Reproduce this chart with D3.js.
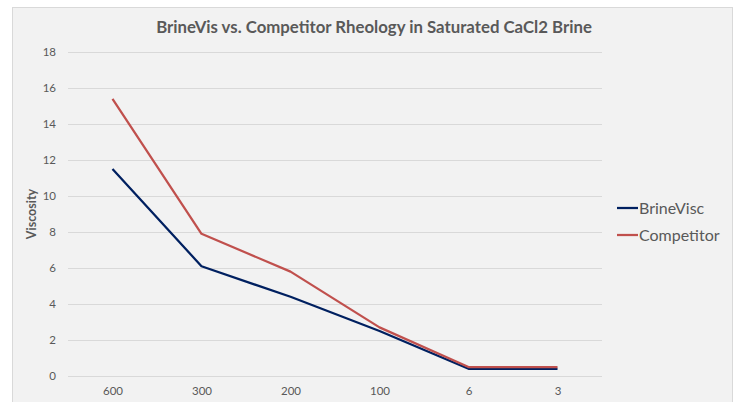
<!DOCTYPE html>
<html>
<head>
    <title>BrineVis vs. Competitor Rheology</title>
    <script src="https://d3js.org/d3.v7.min.js"></script>
    <style>
        body { margin: 0; background: #ffffff; }
        text { font-family: Lato, "Open Sans", sans-serif; fill: #595959; }
    </style>
</head>
<body>
    <div id="svg_container"></div>
    <script>
        // rpm readings on the x axis
        const categories = ["600", "300", "200", "100", "6", "3"];
        const brinevisc = [11.5, 6.1, 4.4, 2.5, 0.4, 0.4];
        const competitor = [15.4, 7.9, 5.8, 2.7, 0.5, 0.5];
        const y_ticks = [0, 2, 4, 6, 8, 10, 12, 14, 16, 18];

        const series = [
            { name: "BrineVisc", values: brinevisc, color: "#002060" },
            { name: "Competitor", values: competitor, color: "#c0504d" }
        ];

        const width = 739;
        const height = 402;
        const plot = { left: 68, right: 602, top: 52, bottom: 376 };

        const svg = d3.select("#svg_container")
            .append("svg")
            .attr("width", width)
            .attr("height", height);

        // chart frame
        svg.append("rect")
            .attr("x", 12.5)
            .attr("y", 7.5)
            .attr("width", 720)
            .attr("height", 420)
            .attr("fill", "#f2f2f2")
            .attr("stroke", "#d9d9d9")
            .attr("stroke-width", 1);

        svg.append("text")
            .attr("x", 374)
            .attr("y", 33)
            .attr("text-anchor", "middle")
            .style("font-size", "16.8px")
            .style("font-weight", "bold")
            .text("BrineVis vs. Competitor Rheology in Saturated CaCl2 Brine");

        const x = d3.scalePoint()
            .domain(categories)
            .range([plot.left, plot.right])
            .padding(0.5);

        const y = d3.scaleLinear()
            .domain([0, 18])
            .range([plot.bottom, plot.top]);

        // y axis: gridlines + labels
        const y_axis = svg.append("g")
            .attr("transform", `translate(${plot.left},0)`)
            .call(d3.axisLeft(y)
                .tickValues(y_ticks)
                .tickSize(-(plot.right - plot.left))
                .tickPadding(12));
        y_axis.select(".domain").remove();
        y_axis.selectAll("line").attr("stroke", "#d9d9d9");
        y_axis.selectAll("text")
            .style("font-size", "11.5px")
            .style("fill", "#595959");

        // x axis labels
        const x_axis = svg.append("g")
            .attr("transform", `translate(0,${plot.bottom})`)
            .call(d3.axisBottom(x).tickSize(0).tickPadding(11));
        x_axis.select(".domain").remove();
        x_axis.selectAll("text")
            .style("font-size", "11.5px")
            .style("fill", "#595959");

        svg.append("text")
            .attr("transform", "translate(36,214) rotate(-90)")
            .attr("text-anchor", "middle")
            .style("font-size", "12.5px")
            .style("font-weight", "bold")
            .text("Viscosity");

        const line = d3.line()
            .x((d, i) => x(categories[i]))
            .y(d => y(d));

        svg.selectAll(".series")
            .data(series)
            .enter()
            .append("path")
            .attr("class", "series")
            .attr("d", d => line(d.values))
            .attr("fill", "none")
            .attr("stroke", d => d.color)
            .attr("stroke-width", 2.25)
            .attr("stroke-linejoin", "round");

        // legend
        const legend = svg.selectAll(".legend")
            .data(series)
            .enter()
            .append("g")
            .attr("class", "legend")
            .attr("transform", (d, i) => `translate(617,${208 + i * 27})`);

        legend.append("line")
            .attr("x1", 0)
            .attr("x2", 21)
            .attr("stroke", d => d.color)
            .attr("stroke-width", 2.25);

        legend.append("text")
            .attr("x", 22)
            .attr("dy", "0.35em")
            .style("font-size", "16px")
            .text(d => d.name);
    </script>
</body>
</html>
